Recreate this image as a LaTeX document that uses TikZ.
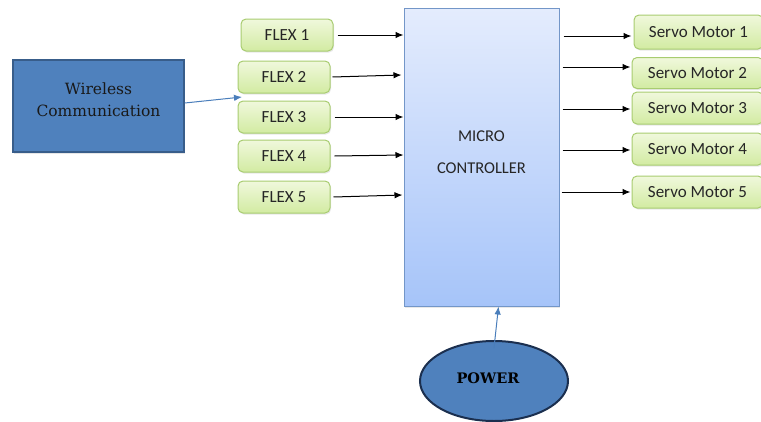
\documentclass[tikz,border=0pt]{standalone}
\usepackage{fontspec}
\setmainfont{DejaVu Serif}
\newfontfamily\calib{Carlito}
\usetikzlibrary{arrows.meta,shapes.geometric,shadows}
\definecolor{steel}{HTML}{4F81BD}
\definecolor{steeledge}{HTML}{385D8A}
\definecolor{navy}{HTML}{1B2F4F}
\definecolor{greenedge}{HTML}{A8CC70}
\definecolor{greentop}{HTML}{F0F8DC}
\definecolor{greenbot}{HTML}{D2EBA2}
\definecolor{mctop}{HTML}{E4ECFD}
\definecolor{mcbot}{HTML}{A6C4F9}
\definecolor{mcedge}{HTML}{7396C8}
\definecolor{linkblue}{HTML}{4A7EBB}
\tikzset{
  greenbox/.style={draw=greenedge, line width=1pt, rounded corners=5pt,
    top color=greentop, bottom color=greenbot,
    drop shadow={shadow xshift=1pt, shadow yshift=-1.5pt, opacity=0.18},
    font=\calib\fontsize{17}{19}\selectfont, text=black!85},
  sig/.style={-{Latex[length=8pt,width=6.5pt]}, line width=1pt, black},
  bluesig/.style={-{Latex[length=8pt,width=6.5pt]}, line width=1pt, linkblue},
}
\begin{document}
\begin{tikzpicture}[x=1pt,y=-1pt]
\useasboundingbox (0,0) rectangle (761,421);

% wireless link block
\node[draw=steeledge, line width=1.6pt, fill=steel, minimum width=171pt, minimum height=92pt,
  drop shadow={shadow xshift=1pt, shadow yshift=-1.5pt, opacity=0.2}]
  (wl) at (98.5,106) {};
\node[align=center, font=\fontsize{15.5}{22}\selectfont, text=black!90]
  (wlt) at (98.5,100) {Wireless\\Communication};

% flex sensor inputs
\node[greenbox, minimum width=92pt, minimum height=32pt] (f1) at (287,35) {FLEX 1};
\node[greenbox, minimum width=92pt, minimum height=32pt] (f2) at (284,77) {FLEX 2};
\node[greenbox, minimum width=92pt, minimum height=32pt] (f3) at (284,117) {FLEX 3};
\node[greenbox, minimum width=92pt, minimum height=32pt] (f4) at (284,156) {FLEX 4};
\node[greenbox, minimum width=92pt, minimum height=32pt] (f5) at (284,197) {FLEX 5};

% microcontroller
\node[draw=mcedge, line width=1pt, top color=mctop, bottom color=mcbot,
  minimum width=155pt, minimum height=298pt,
  drop shadow={shadow xshift=1pt, shadow yshift=-1.5pt, opacity=0.18}]
  (mc) at (481.5,157) {};
\node[font=\calib\fontsize{16.5}{19}\selectfont, text=black!85] (mct1) at (481.5,136) {MICRO};
\node[font=\calib\fontsize{16.5}{19}\selectfont, text=black!85] (mct2) at (481.5,168) {CONTROLLER};

% servo outputs (their right ends run to the page edge)
\node[greenbox, minimum width=129pt, minimum height=34pt] (s1) at (698.5,32) {Servo Motor 1};
\node[greenbox, minimum width=131pt, minimum height=31pt] (s2) at (697.5,73) {Servo Motor 2};
\node[greenbox, minimum width=131pt, minimum height=32pt] (s3) at (697.5,108) {Servo Motor 3};
\node[greenbox, minimum width=131pt, minimum height=32pt] (s4) at (697.5,149) {Servo Motor 4};
\node[greenbox, minimum width=131pt, minimum height=32pt] (s5) at (697.5,192) {Servo Motor 5};

% power supply
\node[ellipse, draw=navy, line width=2pt, fill=steel, minimum width=148pt, minimum height=80pt]
  (pw) at (494,381) {};
\node[font=\bfseries\fontsize{14.5}{16}\selectfont, text=black] (pwt) at (488,378) {POWER};

% connectors
\coordinate (w2) at (242,97);
\draw[bluesig] (wl.east |- 0,103) -- (w2);
\draw[sig] ([xshift=4pt]f1.east) -- (mc.west |- f1);
\draw[sig] ([xshift=2pt]f2.east) -- ([xshift=-2pt]mc.west |- 0,75);
\draw[sig] ([xshift=4pt]f3.east) -- (mc.west |- f3);
\draw[sig] ([xshift=4pt]f4.east) -- (mc.west |- 0,155);
\draw[sig] ([xshift=3pt]f5.east) -- ([xshift=-1pt]mc.west |- 0,195);
\draw[sig] ([xshift=4pt]mc.east |- 0,36) -- ([xshift=-2pt]s1.west |- 0,36);
\draw[sig] ([xshift=3pt]mc.east |- 0,67) -- ([xshift=-1pt]s2.west |- 0,67);
\draw[sig] ([xshift=3pt]mc.east |- 0,109) -- ([xshift=-1pt]s3.west |- 0,109);
\draw[sig] ([xshift=3pt]mc.east |- 0,150) -- ([xshift=-1pt]s4.west |- 0,150);
\draw[sig] ([xshift=2pt]mc.east |- 0,192) -- ([xshift=-1pt]s5.west |- 0,192);
\draw[bluesig] (pw.north |- 0,348) -- ([xshift=17pt]mc.south);
\end{tikzpicture}
\end{document}
